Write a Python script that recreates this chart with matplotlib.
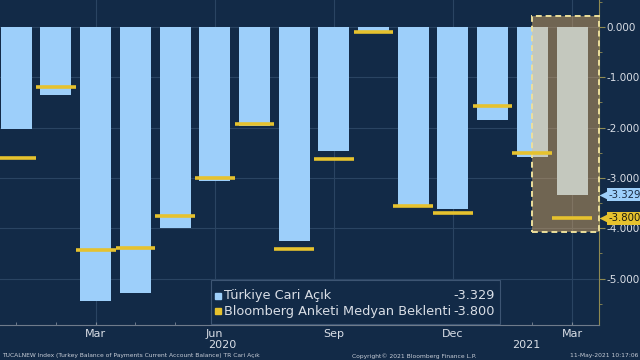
import numpy as np
import matplotlib
matplotlib.use("Agg")
import matplotlib.pyplot as plt
import matplotlib.transforms as mtransforms
from matplotlib.patches import Rectangle
from matplotlib.ticker import FixedLocator, MultipleLocator, FuncFormatter

plt.rcParams['axes.unicode_minus'] = False
plt.rcParams['font.family'] = ['DejaVu Sans']

# aylik veri, Ocak 2020 - Mart 2021
months = ['Jan', 'Feb', 'Mar', 'Apr', 'May', 'Jun', 'Jul', 'Aug', 'Sep', 'Oct',
          'Nov', 'Dec', 'Jan', 'Feb', 'Mar']
cari = [-2.03, -1.36, -5.45, -5.29, -4.00, -3.07, -1.96, -4.25, -2.46, -0.12,
        -3.56, -3.62, -1.85, -2.58, -3.329]
beklenti = [-2.60, -1.19, -4.44, -4.40, -3.75, -3.00, -1.92, -4.41, -2.63, -0.10,
            -3.56, -3.70, -1.56, -2.50, -3.80]
quarter_ticks = [2, 5, 8, 11, 14]
quarter_labels = ['Mar', 'Jun', 'Sep', 'Dec', 'Mar']
years = ['2020', '2021']
year_pos = [5.18, 12.84]
last_cari = '-3.329'
last_beklenti = '-3.800'

bg = '#122a47'
blue = '#9dcffa'
yellow = '#e6c22e'
grid_c = '#2a4462'
txt_c = '#d9dee6'
olive = '#8f8a52'

x = np.arange(len(months))

fig = plt.figure(figsize=(6.4, 3.6), dpi=100, facecolor=bg)
ax = fig.add_axes([0, 0.097, 0.936, 0.903], facecolor=bg)

ax.set_xlim(-0.41, 14.68)
ax.set_ylim(-5.924, 0.537)

ax.bar(x, cari, width=0.78, color=blue, zorder=2)

# son iki ay vurgusu
ax.add_patch(Rectangle((13.0, -4.07), 14.68 - 13.0, 4.07 + 0.22,
                       facecolor='#ffbe64', alpha=0.4, edgecolor='none', zorder=3))
ax.add_patch(Rectangle((13.0, -4.07), 14.68 - 13.0, 4.07 + 0.22,
                       facecolor='none', edgecolor='#ecdf9c', lw=1.4,
                       linestyle=(0, (3, 2)), zorder=3, clip_on=False))

ax.hlines(beklenti, x - 0.5, x + 0.5, colors=yellow, lw=2.6, zorder=4)

# grid
for v in range(-5, 1):
    ax.axhline(v, color=grid_c, lw=0.8, zorder=0)
for q in quarter_ticks:
    ax.axvline(q, color=grid_c, lw=0.8, zorder=0)

# eksenler
ax.yaxis.tick_right()
ax.yaxis.set_major_locator(MultipleLocator(1))
ax.yaxis.set_minor_locator(MultipleLocator(0.5))
ax.yaxis.set_major_formatter(FuncFormatter(lambda v, p: '{:.3f}'.format(v)))
ax.tick_params(axis='y', which='both', direction='out', colors=olive,
               labelcolor=txt_c, labelsize=7.5, pad=1.5)
ax.tick_params(axis='y', which='major', length=4)
ax.tick_params(axis='y', which='minor', length=2)

ax.xaxis.set_major_locator(FixedLocator(quarter_ticks))
ax.xaxis.set_minor_locator(FixedLocator(x))
ax.set_xticklabels(quarter_labels)
ax.tick_params(axis='x', which='both', direction='in', length=2, colors='#7b8796',
               labelcolor=txt_c, labelsize=8, pad=3)

for s in ['left', 'top']:
    ax.spines[s].set_visible(False)
ax.spines['bottom'].set_color('#6f7b8b')
ax.spines['right'].set_color(olive)

trans = mtransforms.blended_transform_factory(ax.transData, ax.transAxes)
for yl, xp in zip(years, year_pos):
    ax.text(xp, -0.062, yl, transform=trans, ha='center', va='center',
            color=txt_c, fontsize=8, clip_on=False)

# sag taraftaki degerler
trans_r = mtransforms.blended_transform_factory(ax.transAxes, ax.transData)
for val, txt, fc, tc in [(cari[-1], last_cari, blue, '#1a2a40'),
                         (beklenti[-1], last_beklenti, yellow, '#1a1a10')]:
    ax.plot([1.008], [val], marker='<', ms=7, color=fc, mec='none',
            transform=trans_r, clip_on=False, zorder=6)
    ax.text(1.016, val, txt, transform=trans_r, ha='left', va='center',
            fontsize=7.3, color=tc, zorder=7, clip_on=False,
            bbox=dict(boxstyle='square,pad=0.15', fc=fc, ec='none'))

# legend
ax.add_patch(Rectangle((0.352, 0.003), 0.483, 0.135, transform=ax.transAxes,
                       facecolor=bg, edgecolor='#3d5573', lw=0.8, zorder=7))
leg_rows = [(blue, 'Türkiye Cari Açık', last_cari, 0.09),
            (yellow, 'Bloomberg Anketi Medyan Beklenti', last_beklenti, 0.043)]
for col, lab, val, yy in leg_rows:
    ax.plot([0.364], [yy], marker='s', ms=4.5, color=col, transform=ax.transAxes,
            zorder=8, clip_on=False)
    ax.text(0.374, yy, lab, transform=ax.transAxes, ha='left', va='center',
            fontsize=9.3, color=txt_c, zorder=8)
    ax.text(0.826, yy, val, transform=ax.transAxes, ha='right', va='center',
            fontsize=9.3, color=txt_c, zorder=8)

fig.text(0.003, 0.012, 'TUCALNEW Index (Turkey Balance of Payments Current Account Balance) TR Cari Açık',
         fontsize=4.3, color='#c8ced8', ha='left', va='center')
fig.text(0.647, 0.012, 'Copyright© 2021 Bloomberg Finance L.P.',
         fontsize=4.3, color='#c8ced8', ha='center', va='center')
fig.text(0.997, 0.012, '11-May-2021 10:17:06',
         fontsize=4.3, color='#c8ced8', ha='right', va='center')

fig.savefig('out.png', dpi=100, facecolor=bg)
